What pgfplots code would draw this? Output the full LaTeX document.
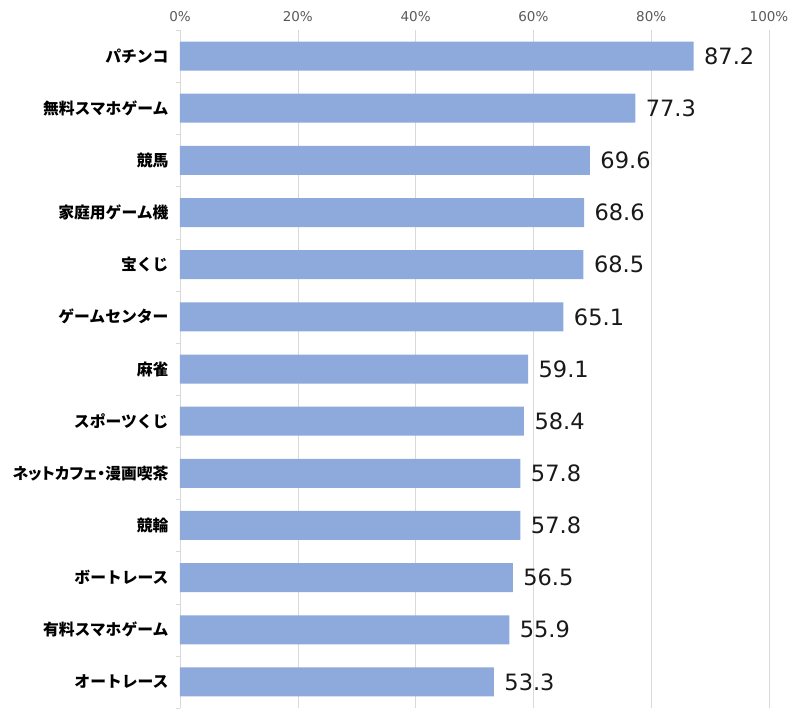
\documentclass[border=0pt]{standalone}
\usepackage{fontspec}
\setmainfont{Noto Sans CJK JP}
\newfontfamily\numfont{DejaVu Sans}
\usepackage{pgfplots}
\pgfplotsset{compat=1.18}
\definecolor{barblue}{HTML}{8EA9DB}
\definecolor{gridgray}{HTML}{D9D9D9}
\definecolor{ticktext}{HTML}{595959}
\begin{document}
\begin{tikzpicture}[x=1pt,y=1pt]
\path[use as bounding box] (0,0) rectangle (801,720);
\begin{axis}[
 at={(180pt,12pt)}, anchor=south west,
 scale only axis, width=589pt, height=678pt,
 xmin=0, xmax=100, ymin=-0.5, ymax=12.5, y dir=reverse,
 axis x line*=top, axis y line*=left,
 x axis line style={draw=none},
 y axis line style={draw=gridgray, -},
 /pgf/number format/assume math mode=true,
 xtick={0,20,...,100},
 xticklabel={\pgfmathprintnumber{\tick}\%},
 xticklabel style={font=\numfont\fontsize{13.5}{15}\selectfont, text=ticktext, yshift=4.5pt},
 xmajorgrids, grid style={draw=gridgray},
 major x tick style={draw=none},
 ytick={0,...,12},
 yticklabels={パチンコ,無料スマホゲーム,競馬,家庭用ゲーム機,宝くじ,ゲームセンター,麻雀,スポーツくじ,{{\addfontfeature{RawFeature=+palt}ネットカフェ・}漫画喫茶},競輪,ボートレース,有料スマホゲーム,オートレース},
 major y tick style={draw=none},
 minor ytick={-0.5,0.5,...,12.5},
 minor y tick style={draw=gridgray},
 major tick length=0pt, minor tick length=4pt, tick align=outside,
 yticklabel style={font=\bfseries\fontsize{15.8}{17}\selectfont, xshift=-8pt},
 point meta=x,
 nodes near coords={\pgfmathprintnumber[fixed,zerofill,precision=1]{\pgfplotspointmeta}},
 nodes near coords style={font=\numfont\fontsize{22.5}{26}\selectfont, anchor=west, xshift=7pt, text=black!90},
]
\addplot[xbar, bar width=29pt, fill=barblue, draw=none] coordinates {
 (87.2,0) (77.3,1) (69.6,2) (68.6,3) (68.5,4) (65.1,5) (59.1,6)
 (58.4,7) (57.8,8) (57.8,9) (56.5,10) (55.9,11) (53.3,12)
};
\end{axis}
\end{tikzpicture}
\end{document}
